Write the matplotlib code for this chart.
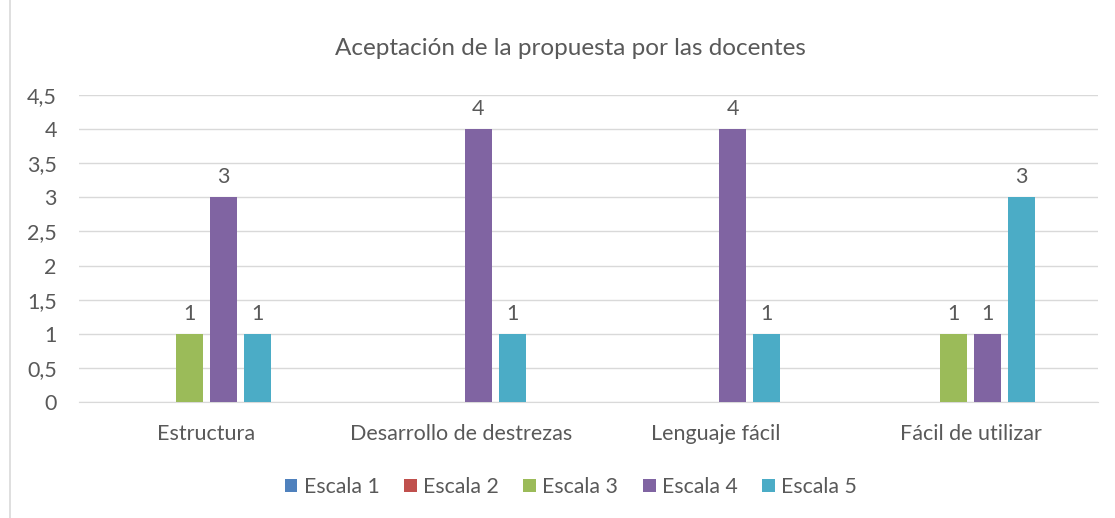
import numpy as np
import matplotlib.pyplot as plt
from matplotlib.patches import Rectangle, Patch

plt.rcParams['font.family'] = ['Lato', 'DejaVu Sans']

# datos
categorias = ["Estructura", "Desarrollo de destrezas", "Lenguaje fácil", "Fácil de utilizar"]
series = ["Escala 1", "Escala 2", "Escala 3", "Escala 4", "Escala 5"]
escala_1 = [0, 0, 0, 0]
escala_2 = [0, 0, 0, 0]
escala_3 = [1, 0, 0, 1]
escala_4 = [3, 4, 4, 1]
escala_5 = [1, 1, 1, 3]
colores = ["#4f81bd", "#c0504d", "#9bbb59", "#8064a2", "#4bacc6"]
yticks = [0, 0.5, 1, 1.5, 2, 2.5, 3, 3.5, 4, 4.5]

valores = [escala_1, escala_2, escala_3, escala_4, escala_5]
gris = "#595959"

fig = plt.figure(figsize=(11.15, 5.18), dpi=100)
ax = fig.add_axes([0.0709, 0.2239, 0.9139, 0.5927])

# borde del área del gráfico
fig.patches.append(Rectangle((0.009, -0.01), 0.995, 1.02, transform=fig.transFigure,
                             fill=False, edgecolor="#d9d9d9", linewidth=1.2))

x = np.arange(len(categorias))
paso = 0.1333
ancho = 0.106
for i, (nombre, vals) in enumerate(zip(series, valores)):
    pos = x + (i - 2.5) * paso
    for xp, v in zip(pos, vals):
        if v > 0:
            ax.bar(xp, v, width=ancho, color=colores[i], zorder=3)
            ax.text(xp, v + 0.15, str(v), ha="center", va="bottom",
                    fontsize=15.5, color=gris)

ax.set_xlim(-0.5, len(categorias) - 0.5)
ax.set_ylim(0, 4.5)
ax.set_yticks(yticks)
ax.set_yticklabels([str(t).replace(".", ",").replace(",0", "") for t in yticks])
ax.set_xticks(x)
ax.set_xticklabels(categorias)
ax.tick_params(axis="both", length=0, labelsize=15.5, labelcolor=gris)
ax.tick_params(axis="y", pad=16)
ax.tick_params(axis="x", pad=16)
ax.grid(axis="y", color="#d9d9d9", linewidth=1, zorder=0)
for s in ["top", "right", "left"]:
    ax.spines[s].set_visible(False)
ax.spines["bottom"].set_color("#d9d9d9")

fig.text(0.512, 0.907, "Aceptación de la propuesta por las docentes",
         ha="center", va="center", fontsize=17.5, color=gris)

handles = [Patch(facecolor=c, label=s) for s, c in zip(series, colores)]
fig.legend(handles=handles, loc="center", bbox_to_anchor=(0.512, 0.06), ncol=5,
           frameon=False, fontsize=15.3, labelcolor=gris, handlelength=0.6,
           handleheight=0.6, handletextpad=0.3, columnspacing=1.15)

fig.savefig("out.png", dpi=100)
